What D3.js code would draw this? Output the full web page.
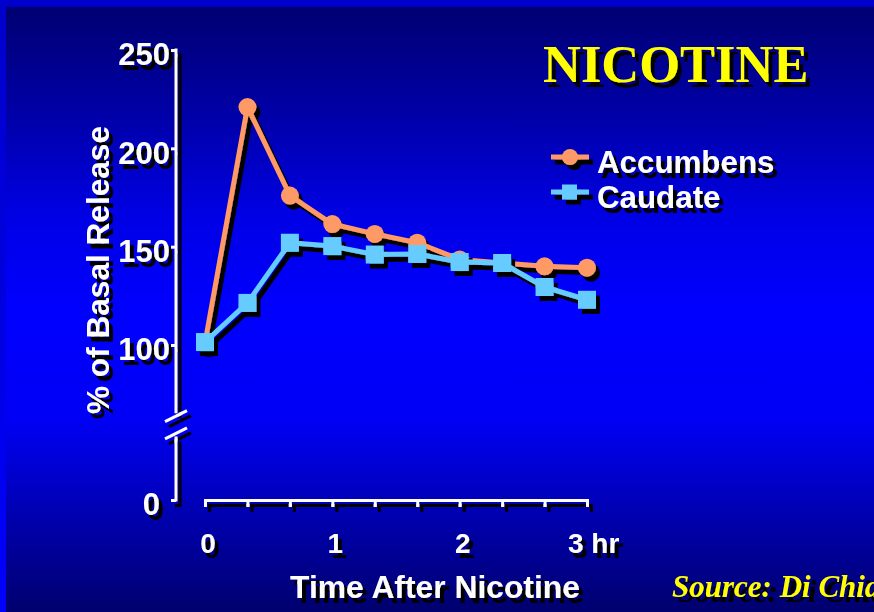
<!DOCTYPE html>
<html><head><meta charset="utf-8">
<script src="https://cdn.jsdelivr.net/npm/d3@7"></script>
<style>html,body{margin:0;padding:0;overflow:hidden;background:#000080}</style>
</head><body>
<svg id="chart" width="874" height="612"></svg>
<script>
// ---- data ----
const times = [0, 20, 40, 60, 80, 100, 120, 140, 160, 180]; // minutes after nicotine
const accumbens = [101, 221, 176, 161.5, 156.5, 152, 143.5, 141.7, 140, 139.3];
const caudate   = [101.5, 121.4, 152, 150.3, 146, 146.3, 142.2, 141.7, 129.5, 123];
const seriesNames = ["Accumbens", "Caudate"];
const yTicks = [0, 100, 150, 200, 250];
const xTicks = [0, 20, 40, 60, 80, 100, 120, 140, 160, 180];
const xLabels = {0: "0", 60: "1", 120: "2", 180: "3 hr"};
const yBreak = [41, 56];
const title = "NICOTINE";
const xTitle = "Time After Nicotine";
const yTitle = "% of Basal Release";
const source = "Source: Di Chiara";

const W = 874, H = 612;
const svg = d3.select("#chart");
const defs = svg.append("defs");
const bg = defs.append("linearGradient").attr("id","bg").attr("x1",0).attr("y1",0).attr("x2",0).attr("y2",1);
[[0,"#000072"],[0.18,"#0000a8"],[0.35,"#0000e6"],[0.5,"#0000ff"],[0.68,"#0000f6"],[0.84,"#0000b0"],[1,"#00006e"]]
  .forEach(([o,c]) => bg.append("stop").attr("offset",o).attr("stop-color",c));
const edge = defs.append("linearGradient").attr("id","edge").attr("x1",0).attr("y1",0).attr("x2",0).attr("y2",1);
[[0,"#0000cc"],[0.5,"#0000e0"],[1,"#0000ff"]].forEach(([o,c]) => edge.append("stop").attr("offset",o).attr("stop-color",c));
function shadow(id, dx, dy){
  const f = defs.append("filter").attr("id",id).attr("filterUnits","userSpaceOnUse")
    .attr("x",0).attr("y",0).attr("width",W).attr("height",H);
  f.append("feOffset").attr("in","SourceAlpha").attr("dx",dx).attr("dy",dy).attr("result","off");
  const m = f.append("feMerge");
  m.append("feMergeNode").attr("in","off");
  m.append("feMergeNode").attr("in","SourceGraphic");
}
shadow("sh", 4, 5);
shadow("shs", 6, 5);

svg.append("rect").attr("width",W).attr("height",H).attr("fill","url(#edge)");
svg.append("rect").attr("x",0).attr("y",0).attr("width",W).attr("height",7).attr("fill","#0000cc");
svg.append("rect").attr("x",6).attr("y",7).attr("width",W-6).attr("height",H-7).attr("fill","url(#bg)");

const x = d3.scaleLinear().domain([0, 180]).range([205, 587]);
const y = d3.scaleLinear().domain([0, 100, 250]).range([500, 345, 50]);

const font = "'Liberation Sans', Arial, Helvetica, sans-serif";
const serif = "'Liberation Serif', 'Times New Roman', Times, serif";

// ---- axes ----
const axG = svg.append("g").attr("filter","url(#sh)");
const yAxis = axG.append("g").attr("transform","translate(176,0)")
  .call(d3.axisLeft(y).tickValues(yTicks).tickSize(5).tickPadding(1).tickFormat(d3.format("d")));
yAxis.select(".domain").remove();
yAxis.selectAll(".tick line").attr("stroke","#fff").attr("stroke-width",3);
yAxis.selectAll(".tick text").attr("fill","#fff").attr("font-family",font).attr("font-weight","bold")
  .attr("font-size",31).attr("dy","0.48em")
  .attr("x", d => d === 0 ? -16 : -6);
// axis line with break
axG.append("line").attr("x1",176).attr("x2",176).attr("y1",y(250)-1.5).attr("y2",y(yBreak[1]))
  .attr("stroke","#fff").attr("stroke-width",3);
axG.append("line").attr("x1",176).attr("x2",176).attr("y1",y(yBreak[0])).attr("y2",y(0)+1.5)
  .attr("stroke","#fff").attr("stroke-width",3);
[y(yBreak[1]) + 3, y(yBreak[0]) - 3].forEach(cy => {
  axG.append("line").attr("x1",165).attr("y1",cy+5.5).attr("x2",187).attr("y2",cy-5.5)
    .attr("stroke","#fff").attr("stroke-width",3);
});

const xAxis = axG.append("g").attr("transform","translate(0,500)")
  .call(d3.axisBottom(x).tickValues(xTicks).tickSize(7).tickSizeOuter(7).tickFormat(""));
xAxis.select(".domain").attr("stroke","#fff").attr("stroke-width",3).attr("fill","none");
xAxis.selectAll(".tick line").attr("stroke","#fff").attr("stroke-width",3);
xTicks.filter(t => xLabels[t] !== undefined).forEach(t => {
  const last = t === 180;
  axG.append("text").attr("x", last ? x(t) - 19 : x(t) + 3).attr("y", 553)
    .attr("text-anchor", last ? "start" : "middle")
    .attr("fill","#fff").attr("font-family",font).attr("font-weight","bold").attr("font-size",28)
    .text(xLabels[t]);
});

// ---- titles ----
const tG = svg.append("g").attr("filter","url(#sh)");
tG.append("text").attr("x",435).attr("y",598).attr("text-anchor","middle")
  .attr("fill","#fff").attr("font-family",font).attr("font-weight","bold").attr("font-size",31.8).text(xTitle);
tG.append("text").attr("transform","translate(109,270) rotate(-90)").attr("text-anchor","middle")
  .attr("fill","#fff").attr("font-family",font).attr("font-weight","bold").attr("font-size",31.6).text(yTitle);
tG.append("text").attr("x",543).attr("y",82)
  .attr("fill","#ffff00").attr("font-family",serif).attr("font-weight","bold").attr("font-size",52.5).text(title);
svg.append("text").attr("x",672).attr("y",597).attr("filter","url(#shs)")
  .attr("fill","#ffff00").attr("font-family",serif).attr("font-weight","bold").attr("font-style","italic")
  .attr("font-size",31).text(source);

// ---- series ----
const colors = ["#ff9966", "#66ccff"];
const data = [accumbens, caudate];
const line = d3.line().x((d,i) => x(times[i])).y(d => y(d));
data.forEach((vals, si) => {
  const g = svg.append("g").attr("filter","url(#sh)");
  g.append("path").datum(vals).attr("d", line).attr("fill","none")
    .attr("stroke", colors[si]).attr("stroke-width",5).attr("stroke-linejoin","round");
  if (si === 0) {
    g.selectAll("circle").data(vals).join("circle")
      .attr("cx",(d,i)=>x(times[i])).attr("cy",d=>y(d)).attr("r",9).attr("fill",colors[si]);
  } else {
    g.selectAll("rect").data(vals).join("rect")
      .attr("x",(d,i)=>x(times[i])-9).attr("y",d=>y(d)-9).attr("width",18).attr("height",18).attr("fill",colors[si]);
  }
});

// ---- legend ----
const lg = svg.append("g").attr("filter","url(#sh)");
const legY = [157, 192], textY = [173, 208];
seriesNames.forEach((name, i) => {
  lg.append("line").attr("x1",551).attr("x2",589).attr("y1",legY[i]).attr("y2",legY[i])
    .attr("stroke",colors[i]).attr("stroke-width",5);
  if (i === 0) lg.append("circle").attr("cx",570).attr("cy",legY[i]).attr("r",8).attr("fill",colors[i]);
  else lg.append("rect").attr("x",562).attr("y",legY[i]-7.5).attr("width",15).attr("height",15).attr("fill",colors[i]);
  lg.append("text").attr("x",597).attr("y",textY[i]).attr("fill","#fff").attr("font-family",font)
    .attr("font-weight","bold").attr("font-size",31.3).text(name);
});
</script>
</body></html>
